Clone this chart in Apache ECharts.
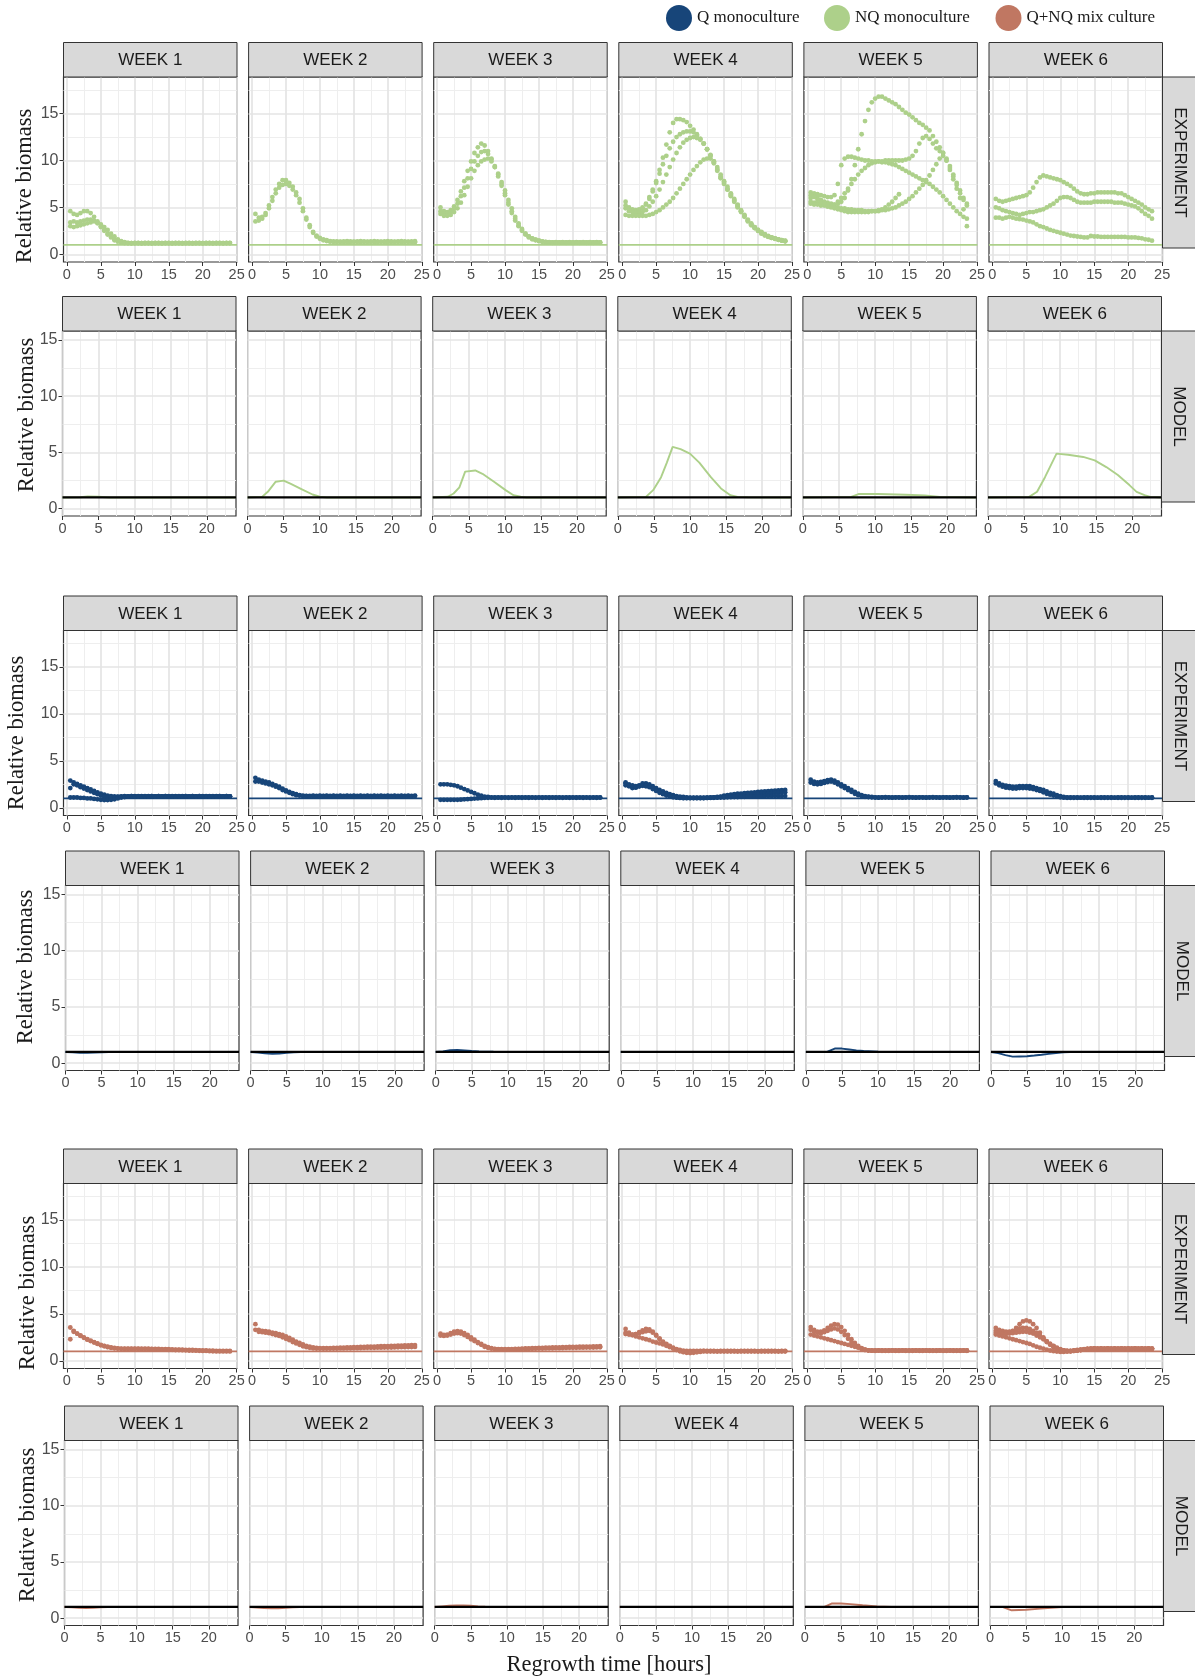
<!DOCTYPE html>
<html><head><meta charset="utf-8">
<script src="https://cdn.jsdelivr.net/npm/echarts@6/dist/echarts.min.js"></script>
<style>html,body{margin:0;padding:0;background:#fff}#c{width:1195px;height:1680px}</style>
</head><body><div id="c"></div>
<script>
// ---------- data ----------
const T = [0.5,1,1.5,2,2.5,3,3.5,4,4.5,5,5.5,6,6.5,7,7.5,8,8.5,9,9.5,10,10.5,11,11.5,12,12.5,13,13.5,14,14.5,15,15.5,16,16.5,17,17.5,18,18.5,19,19.5,20,20.5,21,21.5,22,22.5,23,23.5,24];
const WEEKS = ['WEEK 1','WEEK 2','WEEK 3','WEEK 4','WEEK 5','WEEK 6'];
const X_TICKS_EXP = [0,5,10,15,20,25];
const X_TICKS_MOD = [0,5,10,15,20];
const Y_TICKS = [0,5,10,15];
const LEGEND_NAMES = ['Q monoculture','NQ monoculture','Q+NQ mix culture'];

// NQ monoculture - experiment (replicates, values at times T)
const nqExp1 = [
 [4.6,4.3,4.2,4.4,4.6,4.6,4.4,4.0,3.5,3.0,2.6,2.2,1.9,1.6,1.45,1.3,1.25,1.2,
  1.2,1.2,1.22,1.2,1.2,1.22,1.2,1.2,1.22,1.2,1.2,1.22,1.2,1.2,1.22,1.2,1.2,1.22,1.2,1.2,1.22,1.2,1.2,1.22,1.2,1.2,1.22,1.2,1.2,1.22],
 [3.4,3.5,3.4,3.5,3.6,3.7,3.7,3.6,3.3,2.9,2.5,2.1,1.8,1.5,1.35,1.25,1.2,1.2,
  1.18,1.2,1.2,1.18,1.2,1.2,1.18,1.2,1.2,1.18,1.2,1.2,1.18,1.2,1.2,1.18,1.2,1.2,1.18,1.2,1.2,1.18,1.2,1.2,1.18,1.2,1.2,1.18,1.2,1.2],
 [3.0,2.9,3.0,3.1,3.2,3.3,3.4,3.5,3.4,3.2,2.9,2.6,2.2,1.9,1.6,1.4,1.3,1.22,
  1.2,1.22,1.2,1.2,1.22,1.2,1.2,1.22,1.2,1.2,1.22,1.2,1.2,1.22,1.2,1.2,1.22,1.2,1.2,1.22,1.2,1.2,1.22,1.2,1.2,1.22,1.2,1.2,1.22,1.2]
];
const nqExp2 = [
 [4.3,3.9,4.0,4.4,5.2,6.1,6.9,7.5,7.9,7.9,7.6,7.2,6.6,5.9,4.9,3.9,3.1,2.4,2.0,1.75,1.6,1.5,1.4,1.38,
  1.38,1.36,1.38,1.4,1.38,1.36,1.38,1.4,1.38,1.36,1.38,1.4,1.38,1.36,1.38,1.4,1.38,1.36,1.38,1.4,1.38,1.36,1.38,1.4],
 [3.5,3.6,3.8,4.2,4.9,5.7,6.5,7.1,7.4,7.5,7.3,6.9,6.3,5.5,4.6,3.7,2.9,2.3,1.9,1.65,1.5,1.42,1.35,1.32,
  1.3,1.32,1.3,1.28,1.3,1.32,1.3,1.28,1.3,1.32,1.3,1.28,1.3,1.32,1.3,1.28,1.3,1.32,1.3,1.28,1.3,1.32,1.3,1.28]
];
const nqExp3 = [
 [5.0,4.6,4.5,4.7,5.1,5.8,6.7,7.8,8.9,9.9,10.8,11.4,11.8,11.6,11.0,10.2,9.3,8.3,7.3,6.3,5.3,4.4,3.6,3.0,2.5,2.1,1.8,1.6,1.5,1.4,1.35,1.3,
  1.3,1.28,1.3,1.28,1.3,1.28,1.3,1.28,1.3,1.28,1.3,1.28,1.3,1.28,1.3,1.28],
 [4.6,4.3,4.3,4.5,4.9,5.4,6.2,7.1,8.1,9.1,9.9,10.5,10.9,11.0,10.7,10.1,9.4,8.5,7.5,6.5,5.5,4.6,3.8,3.1,2.6,2.2,1.9,1.7,1.55,1.45,1.38,1.32,
  1.28,1.26,1.28,1.26,1.28,1.26,1.28,1.26,1.28,1.26,1.28,1.26,1.28,1.26,1.28,1.26],
 [4.3,4.1,4.1,4.2,4.5,4.9,5.5,6.3,7.2,8.1,8.9,9.5,9.9,10.1,10.2,9.9,9.3,8.6,7.7,6.8,5.8,4.9,4.0,3.3,2.7,2.2,1.9,1.7,1.55,1.45,1.35,1.3,
  1.25,1.23,1.25,1.23,1.25,1.23,1.25,1.23,1.25,1.23,1.25,1.23,1.25,1.23,1.25,1.23]
];
const nqExp4 = [
 [5.6,5.0,4.8,4.7,4.8,5.0,5.4,6.1,6.9,7.8,9.0,10.3,11.7,13.0,14.0,14.4,14.4,14.3,14.1,13.7,13.3,12.8,12.3,11.8,11.2,10.6,9.9,9.1,
  8.1,7.5,6.9,6.2,5.6,5.0,4.5,4.0,3.5,3.1,2.8,2.5,2.2,2.0,1.85,1.75,1.65,1.55,1.45,1.38],
 [5.2,4.8,4.6,4.5,4.6,4.9,5.3,5.9,6.7,7.6,8.6,9.6,10.5,11.3,12.0,12.5,12.8,13.0,13.1,13.1,13.0,12.7,12.3,11.8,11.2,10.5,9.8,9.0,
  8.3,7.7,7.0,6.4,5.8,5.2,4.6,4.1,3.6,3.2,2.9,2.6,2.3,2.1,1.9,1.8,1.7,1.6,1.5,1.42],
 [4.9,4.6,4.5,4.4,4.4,4.5,4.7,5.1,5.6,6.2,6.9,7.7,8.5,9.3,10.1,10.8,11.4,11.9,12.2,12.4,12.5,12.4,12.2,11.8,11.2,10.5,9.7,8.9,
  8.2,7.6,6.9,6.3,5.7,5.1,4.6,4.1,3.6,3.2,2.8,2.5,2.3,2.1,1.9,1.75,1.65,1.55,1.48,1.4],
 [4.2,4.1,4.1,4.1,4.1,4.1,4.1,4.2,4.3,4.5,4.7,5.0,5.3,5.6,6.0,6.5,7.0,7.5,8.0,8.5,9.0,9.4,9.8,10.1,10.2,10.2,9.9,9.3,
  8.5,7.8,7.2,6.5,5.9,5.3,4.7,4.2,3.7,3.3,2.9,2.6,2.4,2.15,1.95,1.8,1.7,1.6,1.5,1.45]
];
const nqExp5 = [
 [6.0,6.2,6.0,5.8,5.6,5.5,5.4,5.3,5.4,5.6,6.0,6.8,8.0,9.5,11.2,12.8,14.2,15.4,16.2,16.6,16.8,16.8,16.6,16.4,16.2,16.0,15.7,15.4,15.1,14.9,
  14.6,14.3,14.0,13.8,13.5,13.2,12.6,12.0,11.4,10.8,10.0,9.0,8.0,7.0,6.0,4.8,3.0],
 [6.6,6.5,6.4,6.3,6.2,6.1,6.1,6.3,7.5,9.5,10.2,10.4,10.4,10.3,10.2,10.1,10.0,10.0,9.9,9.9,9.9,9.8,9.8,9.7,9.6,9.5,9.3,9.1,8.9,8.7,
  8.5,8.3,8.1,7.9,7.7,7.5,7.2,6.9,6.6,6.2,5.8,5.4,5.0,4.6,4.3,4.0,3.8],
 [5.6,5.5,5.4,5.3,5.3,5.2,5.2,5.3,5.6,6.0,6.5,7.0,7.5,8.0,8.5,8.9,9.2,9.5,9.7,9.8,9.9,9.9,10.0,10.0,10.0,10.0,10.0,10.0,10.1,10.2,
  10.5,11.0,11.8,12.4,12.6,12.3,11.8,11.3,11.0,10.8,10.2,9.4,8.5,7.6,6.8,6.0,5.4],
 [5.4,5.3,5.3,5.2,5.2,5.1,5.1,5.0,5.0,4.9,4.9,4.8,4.8,4.7,4.7,4.7,4.6,4.6,4.6,4.6,4.6,4.7,4.7,4.8,4.9,5.0,5.2,5.4,5.6,5.9,
  6.2,6.6,7.0,7.4,7.9,8.4,9.0,9.6,10.2,10.5,10.0,9.2,8.3,7.4,6.5,5.8,5.2],
 [6.3,6.1,5.8,5.5,5.3,5.1,5.0,4.9,4.8,4.7,4.6,4.5,4.5,4.5,4.5,4.5,4.5,4.5,4.6,4.6,4.7,4.8,5.0,5.3,5.6,6.0,6.4]
];
const nqExp6 = [
 [5.9,5.7,5.6,5.7,5.8,5.9,6.0,6.1,6.2,6.3,6.6,7.1,7.7,8.2,8.4,8.3,8.2,8.1,8.0,7.9,7.7,7.5,7.3,7.0,6.7,6.5,6.4,6.4,6.5,6.5,
  6.6,6.6,6.6,6.6,6.6,6.6,6.5,6.5,6.3,6.1,5.9,5.7,5.5,5.3,5.0,4.8,4.6],
 [5.0,4.9,4.7,4.6,4.5,4.4,4.3,4.2,4.3,4.4,4.5,4.5,4.6,4.7,4.8,5.0,5.2,5.4,5.7,6.0,6.1,6.1,6.0,5.8,5.6,5.5,5.5,5.5,5.5,5.6,
  5.6,5.6,5.6,5.6,5.6,5.5,5.5,5.5,5.4,5.3,5.2,5.1,4.9,4.6,4.3,4.1,3.8],
 [3.9,3.9,3.8,3.9,4.0,3.9,3.8,3.75,3.7,3.6,3.5,3.4,3.2,3.0,2.9,2.75,2.6,2.5,2.4,2.3,2.2,2.1,2.0,1.95,1.9,1.85,1.8,1.8,1.95,1.9,
  1.9,1.85,1.85,1.85,1.85,1.85,1.85,1.85,1.85,1.8,1.8,1.8,1.75,1.7,1.6,1.55,1.45]
];

// Q monoculture - experiment
const qExp1 = [
 [2.9,2.7,2.55,2.4,2.25,2.1,1.95,1.8,1.65,1.5,1.4,1.3,1.25,1.22,1.2,
  1.22,1.24,1.22,1.24,1.25,1.22,1.24,1.22,1.24,1.25,1.22,1.24,1.22,1.24,1.25,1.22,1.24,1.22,1.24,1.25,1.22,1.24,1.22,1.24,1.25,1.22,1.24,1.22,1.24,1.25,1.22,1.24,1.22],
 [2.1,2.5,2.4,2.2,2.05,1.9,1.75,1.6,1.45,1.3,1.15,1.05,1.05,1.1,1.15,1.2,
  1.2,1.22,1.2,1.22,1.2,1.22,1.2,1.22,1.2,1.22,1.2,1.22,1.2,1.22,1.2,1.22,1.2,1.22,1.2,1.22,1.2,1.22,1.2,1.22,1.2,1.22,1.2,1.22,1.2,1.22,1.2,1.22],
 [1.1,1.1,1.1,1.05,1.05,1.0,1.0,0.95,0.9,0.85,0.82,0.82,0.85,0.9,1.0,1.1,1.15,1.2,
  1.25,1.22,1.25,1.22,1.25,1.22,1.25,1.22,1.25,1.22,1.25,1.22,1.25,1.22,1.25,1.22,1.25,1.22,1.25,1.22,1.25,1.22,1.25,1.22,1.25,1.22,1.25,1.22,1.25,1.22]
];
const qExp2 = [
 [3.2,3.0,2.9,2.8,2.7,2.55,2.4,2.25,2.05,1.85,1.7,1.55,1.45,1.35,1.3,1.27,
  1.27,1.3,1.27,1.3,1.28,1.3,1.27,1.3,1.27,1.3,1.27,1.3,1.28,1.3,1.27,1.3,1.27,1.3,1.27,1.3,1.28,1.3,1.27,1.3,1.27,1.3,1.27,1.3,1.28,1.3,1.27,1.3],
 [2.8,2.8,2.7,2.6,2.5,2.4,2.25,2.1,1.9,1.75,1.6,1.45,1.35,1.3,1.25,1.25,
  1.22,1.25,1.22,1.25,1.23,1.25,1.22,1.25,1.22,1.25,1.22,1.25,1.23,1.25,1.22,1.25,1.22,1.25,1.22,1.25,1.23,1.25,1.22,1.25,1.22,1.25,1.22,1.25,1.23,1.25,1.22,1.25]
];
const qExp3 = [
 [2.5,2.5,2.5,2.45,2.4,2.3,2.15,2.0,1.85,1.7,1.55,1.4,1.3,1.2,1.15,1.12,
  1.1,1.12,1.1,1.12,1.11,1.12,1.1,1.12,1.1,1.12,1.1,1.12,1.11,1.12,1.1,1.12,1.1,1.12,1.1,1.12,1.11,1.12,1.1,1.12,1.1,1.12,1.1,1.12,1.11,1.12,1.1,1.12],
 [0.85,0.85,0.85,0.85,0.85,0.85,0.87,0.9,0.92,0.95,0.98,1.0,1.03,1.05,1.07,1.08,
  1.07,1.08,1.07,1.08,1.06,1.08,1.07,1.08,1.07,1.08,1.07,1.08,1.06,1.08,1.07,1.08,1.07,1.08,1.07,1.08,1.06,1.08,1.07,1.08,1.07,1.08,1.07,1.08,1.06,1.08,1.07,1.08]
];
const qExp4 = [
 [2.7,2.4,2.2,2.2,2.4,2.6,2.6,2.5,2.3,2.1,1.9,1.75,1.6,1.45,1.35,1.25,1.2,1.15,1.1,1.07,1.07,1.07,1.07,1.07,1.07,1.1,1.12,1.15,1.2,1.3,
  1.35,1.4,1.45,1.5,1.52,1.55,1.6,1.62,1.65,1.7,1.72,1.75,1.78,1.8,1.82,1.85,1.88,1.9],
 [2.4,2.3,2.1,2.15,2.3,2.4,2.4,2.3,2.1,1.9,1.7,1.55,1.4,1.3,1.2,1.12,1.07,1.05,1.05,1.05,1.05,1.05,1.05,1.05,1.07,1.08,1.1,1.12,1.15,1.2,
  1.22,1.25,1.27,1.3,1.32,1.35,1.37,1.4,1.42,1.45,1.47,1.5,1.52,1.55,1.57,1.6,1.62,1.65],
 [2.6,2.5,2.4,2.3,2.3,2.35,2.3,2.2,2.0,1.8,1.6,1.45,1.3,1.2,1.12,1.08,1.05,1.03,1.03,1.03,1.03,1.03,1.03,1.03,1.05,1.05,1.07,1.08,1.1,1.1,
  1.12,1.13,1.15,1.15,1.17,1.18,1.2,1.2,1.22,1.22,1.23,1.23,1.25,1.25,1.25,1.25,1.25,1.25]
];
const qExp5 = [
 [3.0,2.8,2.7,2.75,2.85,2.95,3.0,2.9,2.7,2.5,2.3,2.1,1.9,1.7,1.5,1.35,1.25,1.18,1.15,
  1.12,1.1,1.12,1.13,1.12,1.1,1.12,1.12,1.1,1.12,1.13,1.12,1.1,1.12,1.12,1.1,1.12,1.13,1.12,1.1,1.12,1.12,1.1,1.12,1.13,1.12,1.1,1.12],
 [2.7,2.55,2.5,2.55,2.65,2.75,2.8,2.7,2.5,2.3,2.1,1.9,1.7,1.5,1.35,1.25,1.18,1.15,1.12,
  1.1,1.08,1.1,1.09,1.1,1.08,1.1,1.1,1.08,1.1,1.09,1.1,1.08,1.1,1.1,1.08,1.1,1.09,1.1,1.08,1.1,1.1,1.08,1.1,1.09,1.1,1.08,1.1]
];
const qExp6 = [
 [2.85,2.6,2.45,2.35,2.3,2.25,2.25,2.3,2.3,2.3,2.3,2.2,2.1,2.0,1.9,1.75,1.6,1.5,1.35,1.25,1.15,1.1,
  1.1,1.12,1.1,1.08,1.1,1.1,1.12,1.1,1.08,1.1,1.1,1.12,1.1,1.08,1.1,1.1,1.12,1.1,1.08,1.1,1.1,1.12,1.1,1.08,1.1],
 [2.6,2.4,2.25,2.15,2.1,2.05,2.05,2.1,2.1,2.1,2.05,2.0,1.9,1.8,1.65,1.5,1.4,1.3,1.2,1.12,1.08,1.07,
  1.07,1.06,1.07,1.08,1.07,1.07,1.06,1.07,1.08,1.07,1.07,1.06,1.07,1.08,1.07,1.07,1.06,1.07,1.08,1.07,1.07,1.06,1.07,1.08,1.07]
];

// Q+NQ mix culture - experiment
const mixExp1 = [
 [3.55,3.2,2.9,2.7,2.5,2.3,2.15,2.0,1.85,1.7,1.6,1.5,1.42,1.37,1.33,1.3,1.3,1.3,1.3,1.3,1.3,1.3,1.3,1.3,1.28,1.28,1.27,1.25,1.25,1.23,
  1.22,1.2,1.2,1.18,1.17,1.15,1.15,1.13,1.12,1.1,1.1,1.08,1.07,1.05,1.05,1.05,1.05,1.05],
 [2.3,3.1,2.9,2.65,2.45,2.25,2.1,1.95,1.8,1.65,1.55,1.45,1.38,1.33,1.3,1.28,1.27,1.27,1.27,1.27,1.27,1.25,1.25,1.25,1.23,1.22,1.22,1.2,1.2,1.18,
  1.17,1.15,1.15,1.13,1.12,1.1,1.1,1.08,1.07,1.05,1.05,1.03,1.02,1.0,1.0,1.0,1.0,1.0]
];
const mixExp2 = [
 [3.9,3.3,3.2,3.15,3.1,3.0,2.95,2.85,2.75,2.6,2.45,2.25,2.05,1.9,1.75,1.6,1.5,1.42,1.37,1.35,1.35,1.35,1.36,1.37,1.38,1.4,1.41,1.42,1.43,1.45,
  1.46,1.47,1.48,1.5,1.51,1.52,1.53,1.55,1.56,1.57,1.58,1.6,1.61,1.62,1.63,1.65,1.66,1.68],
 [3.3,3.1,3.05,3.0,2.95,2.85,2.75,2.65,2.5,2.35,2.2,2.0,1.85,1.7,1.55,1.45,1.38,1.33,1.3,1.3,1.3,1.3,1.3,1.3,1.31,1.32,1.32,1.33,1.34,1.35,
  1.35,1.36,1.37,1.38,1.38,1.39,1.4,1.4,1.41,1.42,1.42,1.43,1.44,1.45,1.45,1.46,1.47,1.48]
];
const mixExp3 = [
 [2.9,2.75,2.8,2.95,3.1,3.15,3.1,2.95,2.75,2.5,2.25,2.0,1.8,1.6,1.45,1.35,1.28,1.25,1.25,1.25,1.25,1.25,1.27,1.28,1.3,1.32,1.33,1.35,1.36,1.37,
  1.38,1.4,1.41,1.42,1.43,1.44,1.45,1.46,1.47,1.48,1.49,1.5,1.5,1.51,1.52,1.53,1.54,1.55],
 [2.7,2.65,2.7,2.8,2.9,2.95,2.9,2.75,2.55,2.3,2.1,1.9,1.7,1.5,1.38,1.3,1.25,1.22,1.2,1.2,1.2,1.2,1.22,1.23,1.25,1.26,1.27,1.28,1.29,1.3,
  1.31,1.32,1.33,1.34,1.35,1.35,1.36,1.37,1.38,1.38,1.39,1.4,1.4,1.41,1.42,1.42,1.43,1.44]
];
const mixExp4 = [
 [3.4,3.0,2.75,2.85,3.05,3.25,3.4,3.35,3.1,2.75,2.35,2.0,1.75,1.55,1.35,1.2,1.05,0.95,0.9,0.9,0.95,1.0,1.03,1.05,
  1.03,1.02,1.03,1.04,1.03,1.02,1.03,1.02,1.03,1.04,1.03,1.02,1.03,1.02,1.03,1.04,1.03,1.02,1.03,1.02,1.03,1.04,1.03,1.02],
 [2.85,2.8,2.8,2.85,2.95,3.05,3.15,3.2,3.0,2.7,2.35,2.05,1.8,1.6,1.4,1.25,1.15,1.07,1.05,1.05,1.05,1.05,1.05,1.05,
  1.05,1.06,1.05,1.04,1.05,1.06,1.05,1.06,1.05,1.04,1.05,1.06,1.05,1.06,1.05,1.04,1.05,1.06,1.05,1.06,1.05,1.04,1.05,1.06],
 [3.0,2.85,2.75,2.6,2.5,2.4,2.3,2.2,2.05,1.95,1.85,1.75,1.6,1.45,1.3,1.15,1.02,0.92,0.85,0.83,0.85,0.9,0.95,1.0,
  1.0,1.01,1.0,0.99,1.0,1.01,1.0,1.01,1.0,0.99,1.0,1.01,1.0,1.01,1.0,0.99,1.0,1.01,1.0,1.01,1.0,0.99,1.0,1.01]
];
const mixExp5 = [
 [3.6,3.3,3.1,3.1,3.25,3.5,3.75,3.9,3.85,3.6,3.2,2.75,2.3,1.9,1.6,1.35,1.2,1.12,1.1,
  1.1,1.12,1.1,1.11,1.1,1.12,1.1,1.1,1.12,1.1,1.11,1.1,1.12,1.1,1.1,1.12,1.1,1.11,1.1,1.12,1.1,1.1,1.12,1.1,1.11,1.1,1.12,1.1],
 [3.3,3.1,3.0,2.95,3.05,3.2,3.35,3.45,3.35,3.1,2.75,2.35,2.0,1.7,1.45,1.25,1.15,1.1,1.08,
  1.08,1.1,1.08,1.09,1.08,1.1,1.08,1.08,1.1,1.08,1.09,1.08,1.1,1.08,1.08,1.1,1.08,1.09,1.08,1.1,1.08,1.08,1.1,1.08,1.09,1.08,1.1,1.08],
 [2.8,2.7,2.6,2.5,2.4,2.3,2.2,2.1,2.0,1.9,1.8,1.7,1.6,1.5,1.4,1.3,1.2,1.12,1.08,
  1.07,1.08,1.07,1.06,1.07,1.08,1.07,1.07,1.08,1.07,1.06,1.07,1.08,1.07,1.07,1.08,1.07,1.06,1.07,1.08,1.07,1.07,1.08,1.07,1.06,1.07,1.08,1.07]
];
const mixExp6 = [
 [3.5,3.3,3.2,3.1,3.1,3.2,3.5,3.9,4.2,4.3,4.2,3.9,3.5,3.0,2.5,2.0,1.7,1.45,1.3,1.2,1.1,1.05,1.05,1.1,1.15,1.2,1.25,1.3,
  1.3,1.32,1.3,1.31,1.3,1.32,1.3,1.31,1.3,1.32,1.3,1.31,1.3,1.32,1.3,1.31,1.3,1.32,1.3],
 [3.2,3.1,3.0,3.0,3.05,3.15,3.3,3.45,3.5,3.5,3.4,3.2,3.0,2.7,2.4,2.1,1.8,1.55,1.35,1.2,1.1,1.05,1.05,1.07,1.1,1.15,1.2,1.25,
  1.28,1.3,1.28,1.29,1.28,1.3,1.28,1.29,1.28,1.3,1.28,1.29,1.28,1.3,1.28,1.29,1.28,1.3,1.28],
 [3.0,2.9,2.85,2.85,2.9,2.95,3.0,3.05,3.1,3.1,3.0,2.9,2.7,2.5,2.3,2.05,1.8,1.6,1.4,1.25,1.12,1.05,1.02,1.05,1.1,1.15,1.2,1.25,
  1.3,1.31,1.3,1.29,1.3,1.31,1.3,1.29,1.3,1.31,1.3,1.29,1.3,1.31,1.3,1.29,1.3,1.31,1.3],
 [2.8,2.7,2.6,2.5,2.4,2.3,2.2,2.1,2.0,1.9,1.8,1.65,1.5,1.4,1.3,1.2,1.1,1.03,0.98,0.95,0.95,0.97,1.0,1.05,1.1,1.15,1.2,1.25,
  1.27,1.28,1.27,1.26,1.27,1.28,1.27,1.26,1.27,1.28,1.27,1.26,1.27,1.28,1.27,1.26,1.27,1.28,1.27]
];

// Model curves: [time, relative biomass]
const nqMod1 = [[0,1],[2.5,1.02],[3.5,1.08],[5,1.06],[6.5,1.0],[24,1.0]];
const nqMod2 = [[0,1],[2,1.05],[2.8,1.5],[3.9,2.4],[5,2.5],[6,2.2],[7.6,1.7],[9,1.26],[10,1.06],[11,1.0],[24,1.0]];
const nqMod3 = [[0,1],[2.1,1.06],[2.9,1.35],[3.7,1.9],[4.5,3.3],[5.9,3.4],[6.9,3.1],[8.5,2.4],[10.1,1.65],[11.2,1.2],[12.2,1.06],[13,1.0],[24,1.0]];
const nqMod4 = [[0,1],[3.9,1.05],[4.9,1.65],[6,2.8],[6.8,4.1],[7.6,5.5],[8.7,5.3],[10,4.9],[11.3,4.1],[12.9,2.8],[14.3,1.8],[15.6,1.2],[16.6,1.05],[18,1.02],[24,1.0]];
const nqMod5 = [[0,1],[6.7,1.05],[7.7,1.3],[10.4,1.3],[14.2,1.24],[16.9,1.18],[19,1.05],[24,1.0]];
const nqMod6 = [[0,1],[5.7,1.05],[6.8,1.5],[7.9,2.8],[8.7,3.85],[9.5,4.9],[11.1,4.8],[13.2,4.6],[14.8,4.3],[16.4,3.7],[18,3.0],[19.6,2.1],[20.6,1.5],[21.7,1.2],[22.5,1.05],[24,1.0]];

const qMod1 = [[0,1],[1,0.97],[2,0.93],[3,0.92],[4,0.94],[5,0.97],[6,1],[24,1]];
const qMod2 = [[0,1],[1,0.95],[2,0.88],[3,0.83],[4,0.86],[5,0.92],[6,0.97],[7,1],[24,1]];
const qMod3 = [[0,1],[1,1.05],[2,1.15],[3,1.17],[4,1.13],[5,1.08],[6,1.05],[8,1.02],[10,1.0],[24,1]];
const qMod4 = [[0,1],[24,1]];
const qMod5 = [[0,1],[3,1.02],[4,1.3],[5,1.3],[6,1.22],[7,1.14],[8,1.08],[10,1.02],[12,1.0],[24,1]];
const qMod6 = [[0,1],[1,0.9],[2,0.72],[3,0.58],[4,0.6],[5,0.62],[6,0.68],[7,0.75],[8,0.83],[9,0.9],[10,0.97],[11,1.0],[24,1]];

const mixMod1 = [[0,1],[1,0.97],[2,0.93],[3,0.9],[4,0.92],[5,0.96],[6,1.0],[24,1]];
const mixMod2 = [[0,1],[1,0.95],[2,0.9],[3,0.87],[4,0.88],[5,0.92],[6,0.96],[7,0.99],[8,1.0],[24,1]];
const mixMod3 = [[0,1],[1,1.05],[2,1.1],[3,1.13],[4,1.13],[5,1.1],[6,1.05],[7,1.02],[8,1.0],[24,1]];
const mixMod4 = [[0,1],[24,1]];
const mixMod5 = [[0,1],[2.7,1.0],[3.7,1.3],[5,1.3],[6.3,1.25],[8,1.15],[10,1.05],[12,1.0],[24,1]];
const mixMod6 = [[0,1],[1.7,1.0],[3,0.7],[5,0.75],[7,0.85],[10,1.0],[24,1]];

// ---------- styling / layout ----------
const GREEN = '#add08a', BLUE = '#174579', BROWN = '#c07762';
const rows = [
 {kind:'exp', label:'EXPERIMENT', name:'NQ monoculture', color:GREEN, panels:[nqExp1,nqExp2,nqExp3,nqExp4,nqExp5,nqExp6]},
 {kind:'mod', label:'MODEL', name:'NQ monoculture', color:GREEN, panels:[nqMod1,nqMod2,nqMod3,nqMod4,nqMod5,nqMod6]},
 {kind:'exp', label:'EXPERIMENT', name:'Q monoculture', color:BLUE, panels:[qExp1,qExp2,qExp3,qExp4,qExp5,qExp6]},
 {kind:'mod', label:'MODEL', name:'Q monoculture', color:BLUE, panels:[qMod1,qMod2,qMod3,qMod4,qMod5,qMod6]},
 {kind:'exp', label:'EXPERIMENT', name:'Q+NQ mix culture', color:BROWN, panels:[mixExp1,mixExp2,mixExp3,mixExp4,mixExp5,mixExp6]},
 {kind:'mod', label:'MODEL', name:'Q+NQ mix culture', color:BROWN, panels:[mixMod1,mixMod2,mixMod3,mixMod4,mixMod5,mixMod6]}
];
const STRIP_TOP = [42.5, 296.5, 596, 851, 1149, 1406];
const ROW_DX = [0, -1, 0, 2, 0, 1];
const YT_X = [25, 27, 17, 26, 28, 28];
const YT_Y = [186, 415, 733, 967, 1293, 1525];
const COL_LEFT0 = 63.5, COL_STEP = 185.1, PANEL_W = 173.5, STRIP_H = 34.5, PANEL_H = 185;
const SANS = '"Liberation Sans", Arial, sans-serif';
const SERIF = '"Liberation Serif", "Times New Roman", serif';

const grids = [], xAxes = [], yAxes = [], series = [], graphics = [];

function gridLines(isExp) {
  const maj = {color:'#e4e4e4', width:1.7, type:'solid'};
  const min = {color:'#eeeeee', width:1, type:'solid'};
  const xs = isExp ? X_TICKS_EXP : X_TICKS_MOD;
  const xm = [2.5,7.5,12.5,17.5,22.5];
  const ym = isExp ? [2.5,7.5,12.5,17.5] : [2.5,7.5,12.5];
  const d = [];
  xm.forEach(v => d.push({xAxis:v, lineStyle:min}));
  ym.forEach(v => d.push({yAxis:v, lineStyle:min}));
  xs.forEach(v => d.push({xAxis:v, lineStyle:maj}));
  Y_TICKS.forEach(v => d.push({yAxis:v, lineStyle:maj}));
  return d;
}

rows.forEach((row, r) => {
  const isExp = row.kind === 'exp';
  const xr = isExp ? [-0.5, 25.05] : [0, 24.05];
  const yr = isExp ? [-0.82, 18.9] : [-0.65, 15.8];
  const stripTop = STRIP_TOP[r];
  const top = stripTop + STRIP_H;
  for (let c = 0; c < 6; c++) {
    const left = COL_LEFT0 + c * COL_STEP + ROW_DX[r];
    const gi = grids.length;
    grids.push({left, top, width:PANEL_W, height:PANEL_H, show:true, backgroundColor:'#fff', borderColor:'#333', borderWidth:1.2});
    xAxes.push({
      type:'value', gridIndex:gi, min:xr[0], max:xr[1], position:'bottom',
      axisLine:{show:false, onZero:false},
      axisTick:{show:true, length:4, customValues:isExp ? X_TICKS_EXP : X_TICKS_MOD, lineStyle:{color:'#333', width:1}},
      axisLabel:{show:true, customValues:isExp ? X_TICKS_EXP : X_TICKS_MOD, color:'#4d4d4d', fontSize:14.5, fontFamily:SANS, margin:5},
      splitLine:{show:false}
    });
    yAxes.push({
      type:'value', gridIndex:gi, min:yr[0], max:yr[1], position:'left',
      axisLine:{show:false, onZero:false},
      axisTick:{show:c===0, length:4, customValues:Y_TICKS, lineStyle:{color:'#333', width:1}},
      axisLabel:{show:c===0, customValues:Y_TICKS, color:'#4d4d4d', fontSize:16, fontFamily:SANS, margin:5},
      splitLine:{show:false}
    });
    // reference line at 1 (+ background grid lines as markLines)
    series.push({
      type:'line', xAxisIndex:gi, yAxisIndex:gi, data:[[xr[0],1],[xr[1],1]],
      symbol:'none', silent:true, z: isExp ? 3 : 5,
      lineStyle:{color: isExp ? row.color : '#000', width: isExp ? 1.7 : 2.2},
      markLine:{silent:true, symbol:['none','none'], label:{show:false}, z:1, animation:false,
        emphasis:{disabled:true}, data:gridLines(isExp)}
    });
    if (isExp) {
      row.panels[c].forEach(rep => {
        series.push({
          type:'scatter', name:row.name, xAxisIndex:gi, yAxisIndex:gi,
          data: rep.map((v, i) => [T[i], v]),
          symbol:'circle', symbolSize:4.8, itemStyle:{color:row.color, opacity:1}, z:4, silent:true
        });
      });
    } else {
      series.push({
        type:'line', name:row.name, xAxisIndex:gi, yAxisIndex:gi,
        data: row.panels[c], symbol:'none', smooth:false, z:4, silent:true,
        lineStyle:{color:row.color, width:1.9}, itemStyle:{color:row.color}
      });
    }
    // facet strip (top)
    graphics.push({type:'rect', z:10, silent:true, shape:{x:left, y:stripTop, width:PANEL_W, height:STRIP_H},
      style:{fill:'#d9d9d9', stroke:'#333', lineWidth:1}});
    graphics.push({type:'text', z:11, silent:true, x:left + PANEL_W/2, y:stripTop + STRIP_H/2 + 1,
      style:{text:WEEKS[c], font:'17px ' + SANS, fill:'#1a1a1a', align:'center', verticalAlign:'middle', textAlign:'center', textVerticalAlign:'middle'}});
  }
  // right strip
  const rx = COL_LEFT0 + 5 * COL_STEP + PANEL_W + ROW_DX[r];
  graphics.push({type:'rect', z:10, silent:true, shape:{x:rx, y:top, width:34, height:171},
    style:{fill:'#d9d9d9', stroke:'#333', lineWidth:1}});
  graphics.push({type:'text', z:11, silent:true, x:rx + 17, y:top + 85.5, rotation:-Math.PI/2,
    style:{text:row.label, font:'17px ' + SANS, fill:'#1a1a1a', align:'center', verticalAlign:'middle', textAlign:'center', textVerticalAlign:'middle'}});
  // y axis title
  graphics.push({type:'text', z:11, silent:true, x:YT_X[r], y:YT_Y[r], rotation:Math.PI/2,
    style:{text:'Relative biomass', font:'22.5px ' + SERIF, fill:'#1a1a1a', align:'center', verticalAlign:'middle', textAlign:'center', textVerticalAlign:'middle'}});
});
graphics.push({type:'text', z:11, silent:true, x:609, y:1665,
  style:{text:'Regrowth time [hours]', font:'22.5px ' + SERIF, fill:'#1a1a1a', align:'center', verticalAlign:'middle', textAlign:'center', textVerticalAlign:'middle'}});

const legendLefts = [666, 824, 995.5];
const legends = LEGEND_NAMES.map((n, i) => ({
  data:[n], left:legendLefts[i], top:5, padding:0, icon:'circle', itemWidth:26, itemHeight:26,
  selectedMode:false, textStyle:{fontFamily:SERIF, fontSize:17, color:'#1a1a1a'}
}));

const chart = echarts.init(document.getElementById('c'), null, {renderer:'canvas'});
chart.setOption({
  animation:false, backgroundColor:'#fff',
  legend:legends, grid:grids, xAxis:xAxes, yAxis:yAxes, series:series, graphic:{elements:graphics}
});
</script></body></html>
